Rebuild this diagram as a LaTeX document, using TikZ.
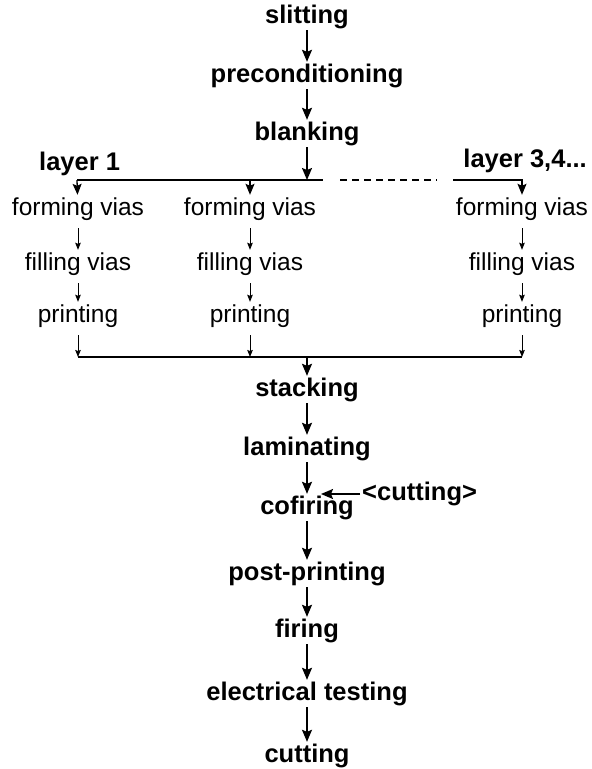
\documentclass[tikz,border=0pt]{standalone}
\usepackage{fontspec}
\setmainfont{Liberation Sans}
\usetikzlibrary{arrows.meta}
\begin{document}
\begin{tikzpicture}[x=1pt,y=-1pt,
  bstep/.style={font=\fontsize{25.5}{30}\selectfont\bfseries, inner sep=2pt, text height=18pt, text depth=5pt, anchor=base},
  rstep/.style={font=\fontsize{24.5}{29}\selectfont, inner sep=2pt, text height=18pt, text depth=5pt, anchor=base},
  marr/.style={line width=1.6pt, -{Stealth[length=12pt,width=10pt,inset=2pt]}},
  carr/.style={line width=1.3pt, -{Stealth[length=11pt,width=9pt,inset=2pt]}},
  sarr/.style={line width=0.9pt, shorten <=6pt, -{Stealth[length=7pt,width=5.5pt,inset=1pt]}},
  bus/.style={line width=1.2pt}]
\useasboundingbox (0,0) rectangle (592,769);

% main column top
\node[bstep] (slit) at (307,23) {slitting};
\node[bstep] (pre) at (307,82) {preconditioning};
\node[bstep] (blank) at (307,140) {blanking};

% bus coordinates
\coordinate (tl) at (77,180);
\coordinate (tj) at (307,180);
\coordinate (tm) at (323,180);
\coordinate (td1) at (340,180);
\coordinate (td2) at (437,180);
\coordinate (tr) at (453,180);

\node[bstep, anchor=base west, inner sep=0pt] (l1) at (39,170) {layer 1};
\node[bstep, anchor=base east, inner sep=0pt] (l3) at (587,167) {layer 3,4...};

% columns
\node[rstep] (fv1) at (78,215) {forming vias};
\node[rstep] (fil1) at (78,270) {filling vias};
\node[rstep] (pr1) at (78,322) {printing};
\node[rstep] (fv2) at (250,215) {forming vias};
\node[rstep] (fil2) at (250,270) {filling vias};
\node[rstep] (pr2) at (250,322) {printing};
\node[rstep] (fv3) at (522,215) {forming vias};
\node[rstep] (fil3) at (522,270) {filling vias};
\node[rstep] (pr3) at (522,322) {printing};

\coordinate (bl1) at (78,357);
\coordinate (bl2) at (250,357);
\coordinate (bm) at (307,357);
\coordinate (bl3) at (522,357);

% main column bottom
\node[bstep] (stack) at (307,396) {stacking};
\node[bstep] (lam) at (307,455) {laminating};
\node[bstep] (cof) at (307,514) {cofiring};
\node[bstep] (post) at (307,580) {post-printing};
\node[bstep] (fir) at (307,637) {firing};
\node[bstep] (elec) at (307,700) {electrical testing};
\node[bstep] (cut) at (307,762) {cutting};
\node[bstep, anchor=base west] (cutin) at (360,500.5) {<cutting>};
\coordinate (ci) at (321,494);

% connectors
\draw[marr] (slit) -- (pre);
\draw[marr] (pre) -- (blank);
\draw[marr] (blank) -- (tj);
\draw[bus] (tl) -- (tm);
\draw[bus, dash pattern=on 7pt off 5pt] (td1) -- (td2);
\draw[carr] (tr) -| (fv3);
\draw[carr] (tl) -- (fv1);
\draw[carr] (tl -| fv2) -- (fv2);

\draw[sarr] (fv1) -- (fil1);
\draw[sarr] (fil1) -- (pr1);
\draw[sarr] (pr1) -- (bl1);
\draw[sarr] (fv2) -- (fil2);
\draw[sarr] (fil2) -- (pr2);
\draw[sarr] (pr2) -- (bl2);
\draw[sarr] (fv3) -- (fil3);
\draw[sarr] (fil3) -- (pr3);
\draw[sarr] (pr3) -- (bl3);
\draw[bus] (bl1) -- (bl3);

\draw[marr] (bm) -- (stack);
\draw[marr] (stack) -- (lam);
\draw[marr] (lam) -- (cof);
\draw[marr] (cutin.west) -- (ci);
\draw[marr] (cof) -- (post);
\draw[marr] (post) -- (fir);
\draw[marr] (fir) -- (elec);
\draw[marr] (elec) -- (cut);
\end{tikzpicture}
\end{document}
